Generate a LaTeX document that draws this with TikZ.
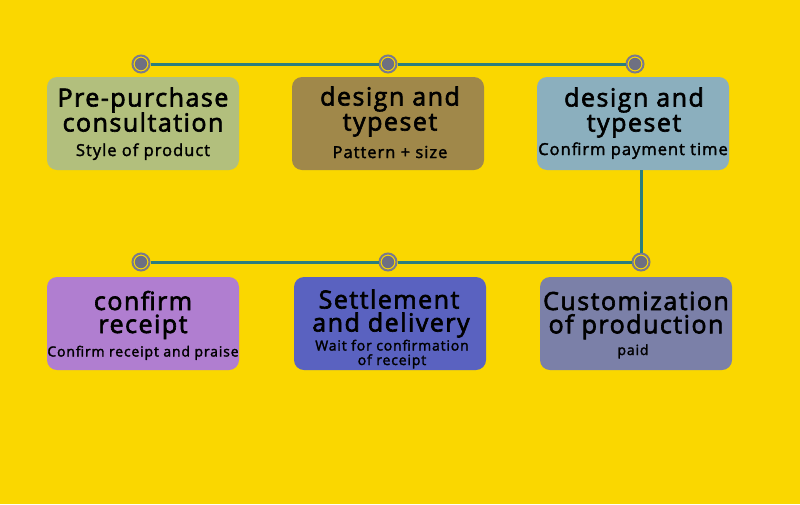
\documentclass[tikz,border=0pt]{standalone}
\usepackage{fontspec}
\setmainfont{Open Sans}
\definecolor{bg}{HTML}{FAD700}
\definecolor{cA}{HTML}{B2BF7D}
\definecolor{cB}{HTML}{A0884A}
\definecolor{cC}{HTML}{8BAFBE}
\definecolor{cD}{HTML}{B07ED0}
\definecolor{cE}{HTML}{5A62C0}
\definecolor{cF}{HTML}{7B80A8}
\definecolor{lineteal}{HTML}{2B7E7E}
\definecolor{ringgray}{HTML}{7A7A8C}
\definecolor{dotgray}{HTML}{6E7082}
\newcommand{\ttlf}{\fontsize{25}{25}\selectfont\addfontfeature{LetterSpace=6,FakeBold=2.5}}
\newcommand{\subbig}{\fontsize{16.5}{16}\selectfont\addfontfeature{LetterSpace=6,FakeBold=2}}
\newcommand{\subsmall}{\fontsize{14}{15}\selectfont\addfontfeature{LetterSpace=6,FakeBold=2}}
\tikzset{
  stepbox/.style={rectangle, rounded corners=10pt, minimum width=192pt, minimum height=93pt, inner sep=0pt},
  ttl/.style={anchor=base, inner sep=0pt, font=\ttlf, text=black},
  subA/.style={anchor=base, inner sep=0pt, font=\subbig, text=black},
  subB/.style={anchor=base, inner sep=0pt, font=\subsmall, text=black},
  dotnode/.style={circle, draw=ringgray, line width=2pt, fill=bg, minimum size=17pt, inner sep=0pt,
    path picture={\fill[dotgray] (path picture bounding box.center) circle (6.2pt);}},
  conn/.style={draw=lineteal, line width=3pt}
}
\begin{document}
\begin{tikzpicture}[x=1pt,y=-1pt]
\fill[bg] (0,0) rectangle (800,504);
\useasboundingbox (0,0) rectangle (800,504);
% boxes
\node[stepbox, fill=cA] (b1) at (143,123.5) {};
\node[stepbox, fill=cB] (b2) at (388,123.5) {};
\node[stepbox, fill=cC] (b3) at (633,123.5) {};
\node[stepbox, fill=cD] (b4) at (143,323.5) {};
\node[stepbox, fill=cE] (b5) at (390,323.5) {};
\node[stepbox, fill=cF] (b6) at (636,323.5) {};
% texts, box 1
\node[ttl] (t1a) at (143,106.5) {Pre-purchase};
\node[ttl] (t1b) at (143,131.5) {consultation};
\node[subA] (s1) at (143,156) {Style of product};
% box 2
\node[ttl] (t2a) at (390,105.5) {design and};
\node[ttl] (t2b) at (390,130.5) {typeset};
\node[subA] (s2) at (390,158) {Pattern + size};
% box 3
\node[ttl] (t3a) at (634,106.5) {design and};
\node[ttl] (t3b) at (634,131.5) {typeset};
\node[subA] (s3) at (633,155) {Confirm payment time};
% box 4
\node[ttl] (t4a) at (143,310) {confirm};
\node[ttl] (t4b) at (143,333) {receipt};
\node[subB] (s4) at (143,356.5) {Confirm receipt and praise};
% box 5
\node[ttl] (t5a) at (389,308.5) {Settlement};
\node[ttl] (t5b) at (391,331.5) {and delivery};
\node[subB] (s5a) at (392,350.5) {Wait for confirmation};
\node[subB] (s5b) at (392,365) {of receipt};
% box 6
\node[ttl] (t6a) at (636,310) {Customization};
\node[ttl] (t6b) at (636,333.3) {of production};
\node[subB] (s6) at (633,355) {paid};
% dots
\node[dotnode] (c1) at (141,64) {};
\node[dotnode] (c2) at (388,64) {};
\node[dotnode] (c3) at (635,64) {};
\node[dotnode] (c4) at (141,262) {};
\node[dotnode] (c5) at (388,262) {};
\node[dotnode] (c6) at (641,262) {};
% connectors
\draw[conn] (c1) -- (c2);
\draw[conn] (c2) -- (c3);
\draw[conn] (c4) -- (c5);
\draw[conn] (c5) -- (c6);
\coordinate (v) at (b3.south -| c6);
\draw[conn] (v) -- (c6);
\end{tikzpicture}
\end{document}
